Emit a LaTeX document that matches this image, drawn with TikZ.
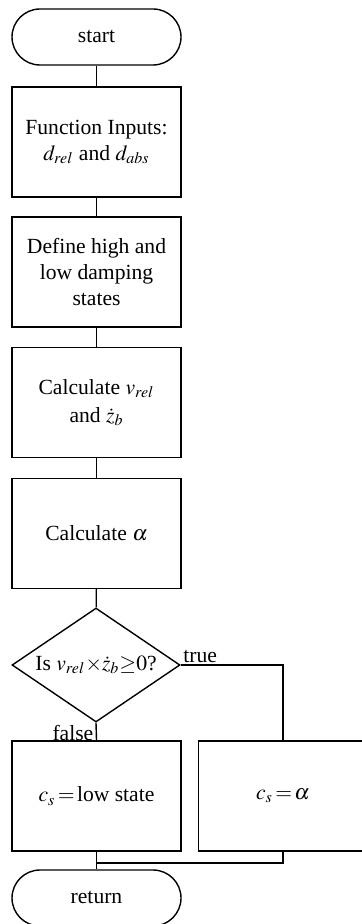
\documentclass[tikz,border=0pt]{standalone}
\usepackage{mathptmx}
\usepackage[no-math]{fontspec}
\setmainfont{Liberation Serif}
\usetikzlibrary{shapes.geometric}
\newcommand{\flowfont}{\fontsize{10.8}{13}\selectfont}
\tikzset{
  proc/.style={
    draw, line width=0.7pt, minimum width=84.5pt, minimum height=55pt,
    inner sep=0pt, align=center, font=\flowfont
  },
  term/.style={
    draw, line width=0.7pt, rounded corners=14pt, minimum width=84.5pt,
    minimum height=28pt, inner sep=0pt, font=\flowfont
  },
  decide/.style={
    draw, diamond, line width=0.7pt, shape aspect=1.47, minimum width=84pt,
    minimum height=57pt, inner sep=0pt, font=\flowfont
  },
  link/.style={line width=0.7pt},
  lab/.style={font=\flowfont, inner sep=1pt}
}

\begin{document}
\begin{tikzpicture}[x=0.5pt,y=-0.5pt]
\useasboundingbox (0,0) rectangle (361,924);

\node[term] (start) at (96.5,37) {start};
\node[proc] (inputs) at (96.5,142) {Function Inputs:\\ $d_{rel}$ and $d_{abs}$};
\node[proc] (states) at (96.5,272) {Define high and\\ low damping\\ states};
\node[proc] (vel) at (96.5,402.5) {Calculate $v_{rel}$\\[1pt] and $\dot{z}_b$};
\node[proc] (alpha) at (96.5,533.5) {Calculate $\alpha$};
\node[decide] (check) at (96,665) {Is $v_{rel}{\times}\dot{z}_b{\geq}0$?};
\node[proc] (low) at (96.5,796) {$c_s\,{=}\,$low state};
% right box runs past the page edge
\node[proc, minimum width=100pt, anchor=west] (set) at (198,796) {};
\node[font=\flowfont] (setlab) at (283,796) {$c_s\,{=}\,\alpha$};
\node[term] (ret) at (96.5,898) {return};

\draw[link] (start) -- (inputs);
\draw[link] (inputs) -- (states);
\draw[link] (states) -- (vel);
\draw[link] (vel) -- (alpha);
\draw[link] (alpha) -- (check);

% branches
\draw[link] (check.south) -- node[lab, pos=0, anchor=north east] {false} (low.north);
\draw[link] (check.east) node[lab, anchor=south west] {true} -| (setlab |- set.north);

% join back
\coordinate (join) at (96.5,863);
\draw[link] (low.south) -- (join) -- (ret.north);
\draw[link] (join) -| (setlab |- set.south);
\end{tikzpicture}
\end{document}
